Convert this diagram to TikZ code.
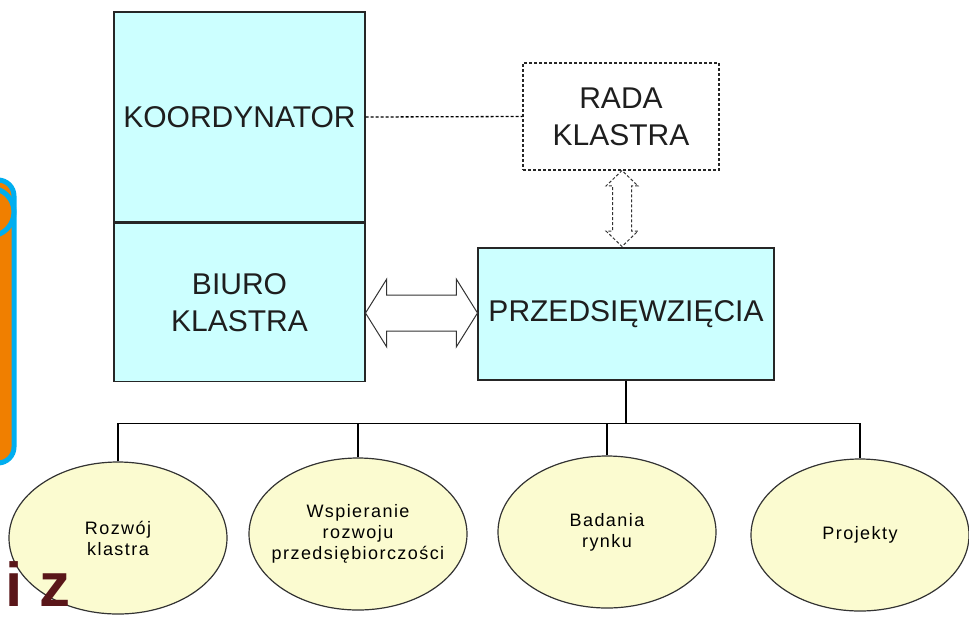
\documentclass[tikz,border=0pt]{standalone}
\usepackage{fontspec}
\setmainfont{Liberation Sans}
\newfontfamily\ovalfont[LetterSpace=8]{Liberation Sans}
\usetikzlibrary{positioning,shapes.geometric,shapes.arrows}
\definecolor{boxcyan}{HTML}{CCFFFF}
\definecolor{ovalyellow}{HTML}{FBFBD0}
\definecolor{slideblue}{HTML}{00AEEF}
\definecolor{slideorange}{HTML}{F07F00}
\definecolor{slidered}{HTML}{5A1619}
\definecolor{inkgrey}{HTML}{1E1E1E}
\begin{document}
\begin{tikzpicture}[x=1pt,y=-1pt,
    box/.style={draw=black!85, line width=1.3pt, fill=boxcyan, text=inkgrey, align=center, inner sep=0pt, font=\fontsize{30}{37}\selectfont},
    oval/.style={ellipse, draw=black!80, line width=1.2pt, fill=ovalyellow, text=black, align=center, minimum width=218pt, minimum height=152pt, inner xsep=-20pt, font=\ovalfont\fontsize{18}{21}\selectfont},
    dashline/.style={dash pattern=on 3pt off 2pt, line width=1.3pt},
    twohead/.style={double arrow, draw=black!80, fill=white, line width=1pt, double arrow head indent=0pt}]
    \useasboundingbox (0,0) rectangle (969,619);
    % slide leftovers
    \draw [line width=5pt, draw=slideblue, fill=slideorange, rounded corners=16pt] (-30,180) rectangle (14,463);
    \draw [line width=5pt, draw=slideblue, fill=slideorange] (-10,212) circle (24pt);
    % boxes
    \node [box, minimum width=251pt, minimum height=210pt] (koord) at (239.5,117) {KOORDYNATOR};
    \node [box, minimum width=251pt, minimum height=158pt, below=0pt of koord] (biuro) {BIURO\\KLASTRA};
    \node [box, dashline, fill=white, minimum width=196pt, minimum height=107pt] (rada) at (621,116.5) {RADA\\KLASTRA};
    \node [box, minimum width=296pt, minimum height=132pt] (przed) at (626,314) {PRZEDSIĘWZIĘCIA};
    % ovals
    \node [oval] (rozwoj) at (118,538) {Rozwój\\klastra};
    \node [oval] (wspier) at (358,534) {Wspieranie\\rozwoju\\przedsiębiorczości};
    \node [oval] (badania) at (607,532) {Badania\\rynku};
    \node [oval] (projekty) at (860,535) {Projekty};
    % links
    \draw [dashline] (koord.east) -- (rada.west);
    \node [twohead, minimum height=112pt, minimum width=67pt, inner xsep=0pt, inner ysep=17.5pt, double arrow head extend=16pt, double arrow tip angle=116] (link) at (421.5,313) {};
    \node [twohead, dashline, line width=1pt, shape border rotate=90, minimum height=76pt, minimum width=31pt, inner sep=9pt, double arrow head extend=6.5pt, double arrow tip angle=92] (tie) at (622,208.5) {};
    % tree
    \draw [line width=1.2pt] (przed.south) -- ++(0,43) coordinate (fork);
    \draw [line width=1.2pt] (rozwoj.north) |- (fork) -| (projekty.north);
    \foreach \o in {wspier,badania}
        \draw [line width=1.2pt] (\o.north) -- (\o.north |- fork);
    % slide text on top
    \node [text=slidered, font=\bfseries\fontsize{62}{62}\selectfont, anchor=base west, inner sep=0pt] (tag) at (5,606) {i z};
\end{tikzpicture}
\end{document}
